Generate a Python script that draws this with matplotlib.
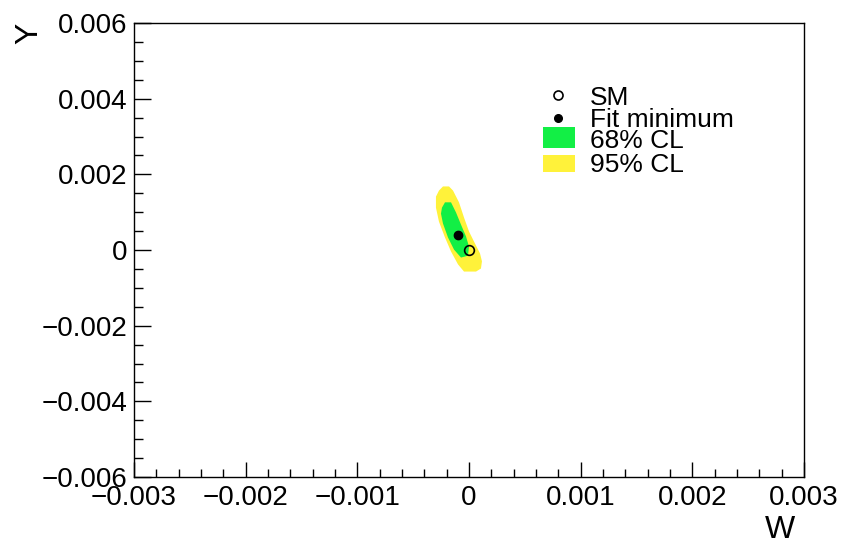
import matplotlib
matplotlib.use('Agg')
import matplotlib.pyplot as plt
from matplotlib.lines import Line2D
from matplotlib.patches import Rectangle, Polygon
import numpy as np

plt.rcParams['font.family'] = ['Liberation Sans', 'DejaVu Sans']

# contour outlines (W, Y)
cl95_w = [-0.000269, -0.000233, -0.000179, -0.000143, -0.0000896, -0.0000448, 0.0,
          0.0000537, 0.0000985, 0.000116, 0.000107, 0.0000627, -0.0000448, -0.0000985,
          -0.000161, -0.000215, -0.000269, -0.000296, -0.000296]
cl95_y = [0.00157, 0.00168, 0.00168, 0.00157, 0.00126, 0.00086, 0.00049,
          0.00017, -0.00009, -0.00030, -0.00049, -0.00057, -0.00057, -0.00038,
          -0.00004, 0.00033, 0.00075, 0.00112, 0.00141]
cl68_w = [-0.000242, -0.000215, -0.000161, -0.000116, -0.0000716, -0.0000269, 0.0,
          -0.0000090, -0.0000716, -0.000134, -0.000188, -0.000233, -0.000251]
cl68_y = [0.00112, 0.00126, 0.00126, 0.00099, 0.00067, 0.00036, 0.00009,
          -0.00015, -0.00020, 0.00001, 0.00033, 0.00070, 0.00096]

sm_point = (0.0, 0.0)
fit_point = (-0.0001, 0.0004)

x_ticks = [-0.003, -0.002, -0.001, 0.0, 0.001, 0.002, 0.003]
x_labels = ['\u22120.003', '\u22120.002', '\u22120.001', '0', '0.001', '0.002', '0.003']
y_ticks = [-0.006, -0.004, -0.002, 0.0, 0.002, 0.004, 0.006]
y_labels = ['\u22120.006', '\u22120.004', '\u22120.002', '0', '0.002', '0.004', '0.006']

legend_labels = ['SM', 'Fit minimum', '68% CL', '95% CL']

green = '#12ef45'
yellow = '#fff23a'

W, H = 843, 545
fig = plt.figure(figsize=(W / 100, H / 100), dpi=100)
ax = fig.add_axes([134 / W, 1 - 477 / H, 670 / W, 454 / H])

ax.add_patch(Polygon(np.column_stack([cl95_w, cl95_y]), closed=True, facecolor=yellow, edgecolor='none'))
ax.add_patch(Polygon(np.column_stack([cl68_w, cl68_y]), closed=True, facecolor=green, edgecolor='none'))
ax.plot(*fit_point, 'o', color='black', markersize=6, zorder=5)
ax.plot(*sm_point, 'o', markerfacecolor='none', markeredgecolor='black', markersize=7, markeredgewidth=1.2, zorder=5)

ax.set_xlim(-0.003, 0.003)
ax.set_ylim(-0.006, 0.006)
ax.set_xticks(x_ticks)
ax.set_xticklabels(x_labels)
ax.set_yticks(y_ticks)
ax.set_yticklabels(y_labels)
ax.set_xticks(np.arange(-0.003, 0.00301, 0.0002), minor=True)
ax.set_yticks(np.arange(-0.006, 0.00601, 0.0005), minor=True)

ax.tick_params(axis='both', which='both', direction='in', labelsize=20, width=1, color='black')
ax.tick_params(axis='x', which='major', length=10.8, pad=6)
ax.tick_params(axis='x', which='minor', length=5.8)
ax.tick_params(axis='y', which='major', length=12.2, pad=5)
ax.tick_params(axis='y', which='minor', length=6.5)
for s in ax.spines.values():
    s.set_linewidth(1)
    s.set_color('black')

fig.text(795 / W, 1 - 530 / H, 'W', fontsize=23, ha='right', va='center')
fig.text(29 / W, 1 - 33 / H, 'Y', fontsize=23, ha='center', va='center', rotation=90)

# legend drawn in figure pixels
def fy(py):
    return 1 - py / H

fig.add_artist(Line2D([558 / W], [fy(95)], marker='o', markerfacecolor='none',
                      markeredgecolor='black', markersize=6.5, markeredgewidth=1.2))
fig.add_artist(Line2D([558 / W], [fy(118)], marker='o', color='black', markersize=5.5))
fig.add_artist(Rectangle((543 / W, fy(148)), 32 / W, 21 / H, facecolor=green, edgecolor='none'))
fig.add_artist(Rectangle((543 / W, fy(172)), 32 / W, 17 / H, facecolor=yellow, edgecolor='none'))
for lab, base in zip(legend_labels, [105, 127, 148, 172]):
    fig.text(590 / W, fy(base), lab, fontsize=19, ha='left', va='baseline')

fig.savefig('out.png', dpi=100)
